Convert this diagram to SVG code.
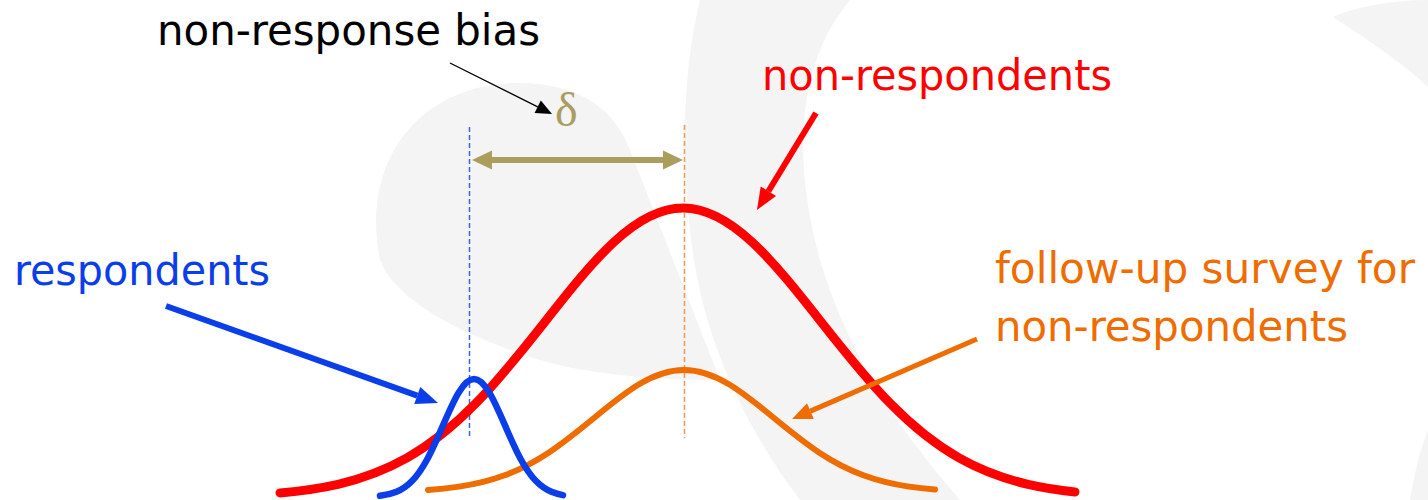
<svg xmlns="http://www.w3.org/2000/svg" width="1428" height="500" viewBox="0 0 1428 500">
  <style>
    .wm { fill: #f4f4f4; stroke: none; }
    .lbl { font-family: "DejaVu Sans Condensed", "DejaVu Sans", "Liberation Sans", sans-serif; font-size: 43px; }
    .curve { fill: none; stroke-linecap: round; stroke-linejoin: round; }
    .dash { fill: none; stroke-width: 1.5; stroke-dasharray: 5 3; }
  </style>
  <defs>
    <marker id="hBlue" markerUnits="userSpaceOnUse" markerWidth="24" markerHeight="20" viewBox="0 -10 24 20" refX="0" refY="0" orient="auto" overflow="visible">
      <path d="M0,-9 L22,0 L0,9 Z" fill="#0a3ee8"/>
    </marker>
    <marker id="hRed" markerUnits="userSpaceOnUse" markerWidth="24" markerHeight="20" viewBox="0 -10 24 20" refX="0" refY="0" orient="auto" overflow="visible">
      <path d="M0,-9 L22,0 L0,9 Z" fill="#ff0000"/>
    </marker>
    <marker id="hOrange" markerUnits="userSpaceOnUse" markerWidth="22" markerHeight="20" viewBox="0 -10 22 20" refX="0" refY="0" orient="auto" overflow="visible">
      <path d="M0,-8.5 L20,0 L0,8.5 Z" fill="#ee6c00"/>
    </marker>
    <marker id="hBlack" markerUnits="userSpaceOnUse" markerWidth="18" markerHeight="16" viewBox="0 -8 18 16" refX="0" refY="0" orient="auto" overflow="visible">
      <path d="M0,-7 L16,0 L0,7 Z" fill="#000000"/>
    </marker>
    <marker id="hOlive" markerUnits="userSpaceOnUse" markerWidth="22" markerHeight="20" viewBox="0 -10 22 20" refX="0" refY="0" orient="auto-start-reverse" overflow="visible">
      <path d="M0,-9.5 L20,0 L0,9.5 Z" fill="#aa9d5e"/>
    </marker>
  </defs>

  <rect width="1428" height="500" fill="#ffffff"/>

  <g id="watermark">
    <path class="wm" d="M380,260 C360,160 420,85 515,83 C580,82 615,110 630,150 L720,380 C640,380 580,372 540,360 C460,335 395,300 380,260 Z"/>
    <path class="wm" d="M700,0 L850,0 C800,60 790,150 820,260 C850,360 900,430 960,500 L800,500 C740,420 700,330 690,230 C680,140 685,60 700,0 Z"/>
    <path class="wm" d="M1333,17 C1360,5 1400,0 1428,0 L1428,87 C1400,60 1360,35 1333,17 Z"/>
    <path class="wm" d="M1428,430 L1428,500 L1410,500 C1415,470 1420,450 1428,430 Z"/>
  </g>

  <g id="guides">
    <line class="dash" x1="469.5" y1="127" x2="469.5" y2="438" stroke="#3366ee"/>
    <line class="dash" x1="684.5" y1="125" x2="684.5" y2="438" stroke="#f0944e"/>
  </g>

  <g id="node-nonrespondents-curve">
    <path class="curve" stroke="#ff0000" stroke-width="9" d="M280,492.9 C299.3,491.2 318.7,488.7 338,484.3 C361,479 384,470.9 407,457.9 C430,444.9 453,426.7 476,403.2 C499,379.7 522,350.9 545,321.7 C568,292.5 591,263.3 614,242 C637,220.7 660,208 683,208 C706,208 729,220.7 752,242 C775,263.3 798,292.5 821,321.7 C844,350.9 867,379.7 890,403.2 C913,426.7 936,444.9 959,457.9 C982,470.9 1005,479 1028,484.3 C1043.7,487.9 1059.3,490.3 1075,491.9"/>
  </g>

  <g id="node-followup-curve">
    <path class="curve" stroke="#ee6c00" stroke-width="6" d="M428,489.9 C438.33,489.2 448.67,488.1 459,486.6 C474,484.4 489,481 504,475.5 C519,470 534,462.3 549,452.4 C564,442.5 579,430.3 594,418 C609,405.7 624,393.3 639,384.3 C654,375.3 669,370 684,370 C699,370 714,375.3 729,384.3 C744,393.3 759,405.7 774,418 C789,430.3 804,442.5 819,452.4 C834,462.3 849,470 864,475.5 C879,481 894,484.4 909,486.6 C917.67,487.9 926.33,488.8 935,489.5"/>
  </g>

  <g id="node-respondents-curve">
    <path class="curve" stroke="#0a3ee8" stroke-width="6.5" d="M380,495.8 C385.5,495.2 391,494.1 396.5,491.8 C401.67,489.6 406.83,486.3 412,481 C417.17,475.7 422.33,468.3 427.5,458.7 C432.67,449.1 437.830,437.3 443,425.4 C448.17,413.5 453.33,401.6 458.5,392.9 C463.67,384.2 468.83,379 474,379 C479.17,379 484.33,384.2 489.5,392.9 C494.67,401.6 499.83,413.5 505,425.4 C510.17,437.3 515.33,449.1 520.5,458.7 C525.67,468.3 530.83,475.7 536,481 C541.17,486.3 546.33,489.6 551.5,491.8 C555.33,493.4 559.17,494.4 563,495.1"/>
  </g>

  <g id="node-label-bias">
    <text class="lbl" x="157" y="45" fill="#000000" textLength="383" lengthAdjust="spacingAndGlyphs">non-response bias</text>
  </g>
  <g id="node-delta">
    <text x="555" y="126" fill="#aa9d5e" font-family="Liberation Serif, serif" font-size="48">δ</text>
  </g>
  <g id="node-label-nonrespondents">
    <text class="lbl" x="762" y="90" fill="#ff0000" textLength="350" lengthAdjust="spacingAndGlyphs">non-respondents</text>
  </g>
  <g id="node-label-respondents">
    <text class="lbl" x="14" y="285" fill="#0a3ee8" textLength="256" lengthAdjust="spacingAndGlyphs">respondents</text>
  </g>
  <g id="node-label-followup">
    <text class="lbl" fill="#ee6c00">
      <tspan x="995" y="283" textLength="420" lengthAdjust="spacingAndGlyphs">follow-up survey for</tspan>
      <tspan x="995" y="341" textLength="353" lengthAdjust="spacingAndGlyphs">non-respondents</tspan>
    </text>
  </g>

  <g id="connectors">
    <line x1="450" y1="63" x2="537.7" y2="106.8" stroke="#000000" stroke-width="1.3" marker-end="url(#hBlack)"/>
    <line x1="492" y1="160" x2="663" y2="160" stroke="#aa9d5e" stroke-width="6" marker-start="url(#hOlive)" marker-end="url(#hOlive)"/>
    <line x1="166" y1="306" x2="417.3" y2="395.6" stroke="#0a3ee8" stroke-width="6" marker-end="url(#hBlue)"/>
    <line x1="816" y1="113" x2="768.4" y2="191.2" stroke="#ff0000" stroke-width="6" marker-end="url(#hRed)"/>
    <line x1="977" y1="339" x2="810.4" y2="411.1" stroke="#ee6c00" stroke-width="5" marker-end="url(#hOrange)"/>
  </g>
</svg>
